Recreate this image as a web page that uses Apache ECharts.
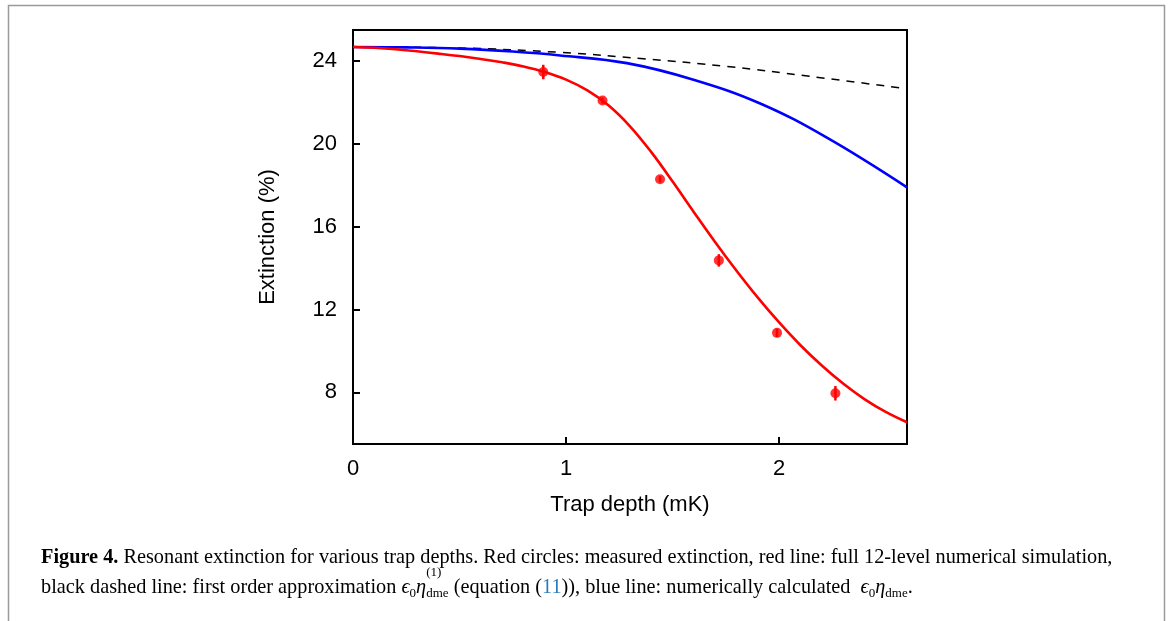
<!DOCTYPE html>
<html>
<head>
<meta charset="utf-8">
<script src="https://cdn.jsdelivr.net/npm/echarts@6/dist/echarts.min.js"></script>
<style>html,body{margin:0;padding:0;background:#fff}#c{width:1168px;height:621px}</style>
</head>
<body>
<div id="c"></div>
<script>
// Measured points
const measX = [0.893, 1.171, 1.441, 1.717, 1.99, 2.264];
const measY = [23.47, 22.09, 18.29, 14.37, 10.87, 7.95];
const measErr = [0.35, 0.15, 0.15, 0.3, 0.2, 0.35];

// Red line: full 12-level simulation
const redX = [0, 0.1, 0.2, 0.3, 0.4, 0.5, 0.6, 0.7, 0.8, 0.9, 1.0, 1.1, 1.2, 1.3, 1.4, 1.5, 1.6, 1.7, 1.8, 1.9, 2.0, 2.1, 2.2, 2.3, 2.4, 2.5, 2.6];
const redY = [24.68, 24.64, 24.57, 24.47, 24.36, 24.24, 24.1, 23.94, 23.74, 23.47, 23.1, 22.58, 21.85, 20.85, 19.6, 18.18, 16.7, 15.25, 13.87, 12.57, 11.37, 10.27, 9.29, 8.42, 7.67, 7.05, 6.55];

// Blue line: numerically calculated
const blueX = [0, 0.25, 0.5, 0.75, 0.972, 1.285, 1.598, 1.911, 2.224, 2.6];
const blueY = [24.68, 24.66, 24.6, 24.46, 24.27, 23.9, 23.1, 21.95, 20.3, 17.9];

// Black dashed line: first order approximation
const dashX = [0, 0.5, 0.972, 1.363, 1.754, 2.146, 2.6];
const dashY = [24.68, 24.63, 24.42, 24.11, 23.74, 23.26, 22.66];

const xTicks = [0, 1, 2];
const yTicks = [8, 12, 16, 20, 24];

const zip = (a, b) => a.map((v, i) => [v, b[i]]);

const font = 'Liberation Sans, Arial, Helvetica, sans-serif';
const serif = 'Liberation Serif, Times New Roman, serif';
const capSize = 20.3, subSize = 13;

// place the superscript "(1)" above the first "dme" subscript
const mctx = document.createElement('canvas').getContext('2d');
function tw(t, f) { mctx.font = f; return mctx.measureText(t).width; }
const supX = 41 + tw('black dashed line: first order approximation ', capSize + 'px "Liberation Serif"')
  + tw('ϵ', 'italic ' + capSize + 'px "Liberation Serif"')
  + tw('0', subSize + 'px "Liberation Serif"')
  + tw('η', 'italic ' + capSize + 'px "Liberation Serif"');

const chart = echarts.init(document.getElementById('c'), null, {renderer: 'canvas'});

chart.setOption({
  animation: false,
  backgroundColor: '#fff',
  grid: {left: 353, right: 261, top: 30, bottom: 177, show: true, borderColor: '#000', borderWidth: 2},
  xAxis: {
    type: 'value', min: 0, max: 2.6,
    name: 'Trap depth (mK)', nameLocation: 'middle', nameGap: 50,
    nameTextStyle: {fontFamily: font, fontSize: 22, color: '#000'},
    axisLine: {lineStyle: {color: '#000', width: 2}},
    axisTick: {inside: true, length: 7, lineStyle: {color: '#000', width: 2}, customValues: xTicks},
    axisLabel: {fontFamily: font, fontSize: 22, color: '#000', margin: 14, customValues: xTicks},
    splitLine: {show: false}
  },
  yAxis: {
    type: 'value', min: 5.5, max: 25.5,
    name: 'Extinction (%)', nameLocation: 'middle', nameGap: 74, nameRotate: 90,
    nameTextStyle: {fontFamily: font, fontSize: 22, color: '#000'},
    axisLine: {lineStyle: {color: '#000', width: 2}},
    axisTick: {inside: true, length: 7, lineStyle: {color: '#000', width: 2}, customValues: yTicks},
    axisLabel: {fontFamily: font, fontSize: 22, color: '#000', margin: 16, customValues: yTicks},
    splitLine: {show: false}
  },
  series: [
    {type: 'line', data: zip(dashX, dashY), showSymbol: false, smooth: 0.4,
     lineStyle: {color: '#000', width: 1.5, type: [8, 7]}, z: 2},
    {type: 'line', data: zip(blueX, blueY), showSymbol: false, smooth: 0.4,
     lineStyle: {color: '#0000ff', width: 2.6}, z: 3},
    {type: 'line', data: zip(redX, redY), showSymbol: false, smooth: 0.4,
     lineStyle: {color: '#ff0000', width: 2.6}, z: 4},
    {type: 'custom', z: 5,
     data: measX.map((x, i) => [x, measY[i] - measErr[i], measY[i] + measErr[i]]),
     renderItem: function (params, api) {
       const p1 = api.coord([api.value(0), api.value(1)]);
       const p2 = api.coord([api.value(0), api.value(2)]);
       return {type: 'line', shape: {x1: p1[0], y1: p1[1], x2: p2[0], y2: p2[1]},
               style: {stroke: '#ff0000', lineWidth: 2.5}};
     }},
    {type: 'scatter', data: zip(measX, measY), symbol: 'circle', symbolSize: 10,
     itemStyle: {color: '#ff0000'}, z: 6}
  ],
  graphic: [
    {type: 'rect', left: 6, top: 3, shape: {width: 1156, height: 640},
     style: {fill: 'none', stroke: '#9a9a9a', lineWidth: 1.5}, silent: true},
    {type: 'text', left: 41, top: 548, style: {
      text: '{b|Figure 4.} Resonant extinction for various trap depths. Red circles: measured extinction, red line: full 12-level numerical simulation,',
      fontFamily: serif, fontSize: capSize, fill: '#000',
      rich: {b: {fontWeight: 'bold', fontFamily: serif, fontSize: capSize}}
    }},
    {type: 'text', left: 41, top: 576, style: {
      text: 'black dashed line: first order approximation {i|ϵ}{s|0}{i|η}{s|dme} (equation ({l|11})), blue line: numerically calculated  {i|ϵ}{s|0}{i|η}{s|dme}.',
      fontFamily: serif, fontSize: capSize, fill: '#000', lineHeight: 24,
      rich: {
        i: {fontStyle: 'italic', fontFamily: serif, fontSize: capSize, lineHeight: 24},
        s: {fontFamily: serif, fontSize: subSize, lineHeight: 14, verticalAlign: 'bottom'},
        l: {fontFamily: serif, fontSize: capSize, fill: '#2b7bb9', color: '#2b7bb9', lineHeight: 24}
      }
    }},
    {type: 'text', left: supX, top: 566, style: {text: '(1)', fontFamily: serif, fontSize: subSize, fill: '#000'}}
  ]
});
</script>
</body>
</html>
